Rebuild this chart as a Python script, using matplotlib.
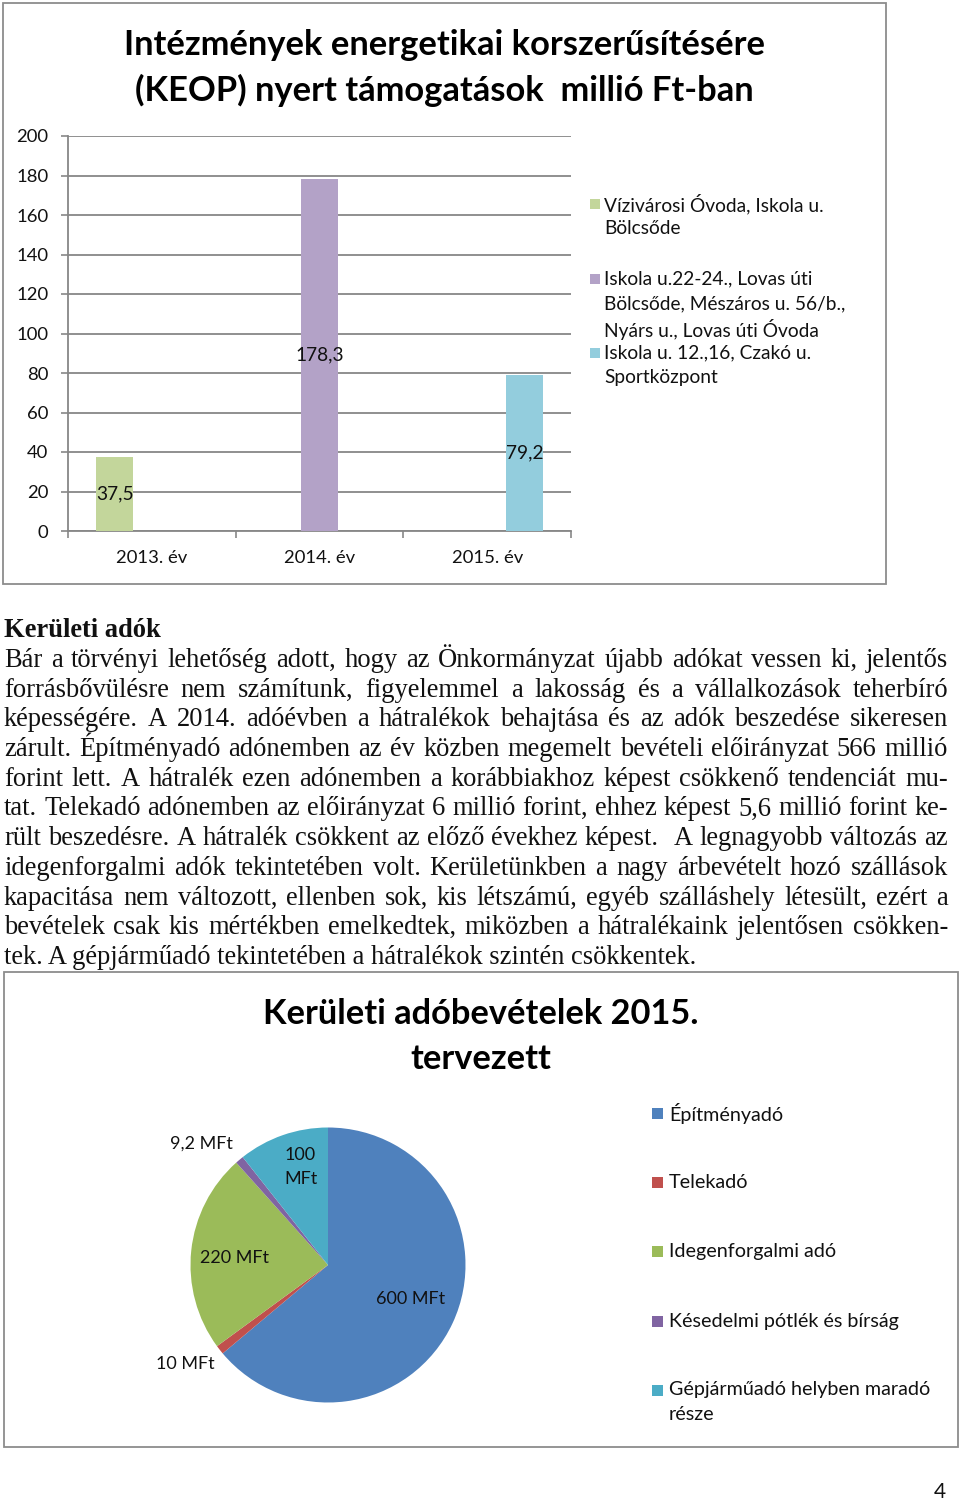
import matplotlib
matplotlib.use("Agg")
import matplotlib.pyplot as plt
from matplotlib.patches import Rectangle
import numpy as np

# ---------------- data ----------------
bar_title = ["Intézmények energetikai korszerűsítésére",
             "(KEOP) nyert támogatások  millió Ft-ban"]
bar_categories = ["2013. év", "2014. év", "2015. év"]
bar_series = ["Vízivárosi Óvoda, Iskola u.\nBölcsőde",
              "Iskola u.22-24., Lovas úti\nBölcsőde, Mészáros u. 56/b.,\nNyárs u., Lovas úti Óvoda",
              "Iskola u. 12.,16, Czakó u.\nSportközpont"]
series_values = [[37.5, 0, 0],
                 [0, 178.3, 0],
                 [0, 0, 79.2]]
bar_value_labels = ["37,5", "178,3", "79,2"]
bar_colors = ["#C3D69B", "#B3A2C7", "#93CDDD"]
y_ticks = [0, 20, 40, 60, 80, 100, 120, 140, 160, 180, 200]

heading = "Kerületi adók"
paragraph_lines = [
    "Bár a törvényi lehetőség adott, hogy az Önkormányzat újabb adókat vessen ki, jelentős",
    "forrásbővülésre nem számítunk, figyelemmel a lakosság és a vállalkozások teherbíró",
    "képességére. A 2014. adóévben a hátralékok behajtása és az adók beszedése sikeresen",
    "zárult. Építményadó adónemben az év közben megemelt bevételi előirányzat 566 millió",
    "forint lett. A hátralék ezen adónemben a korábbiakhoz képest csökkenő tendenciát mu-",
    "tat. Telekadó adónemben az előirányzat 6 millió forint, ehhez képest 5,6 millió forint ke-",
    "rült beszedésre. A hátralék csökkent az előző évekhez képest.  A legnagyobb változás az",
    "idegenforgalmi adók tekintetében volt. Kerületünkben a nagy árbevételt hozó szállások",
    "kapacitása nem változott, ellenben sok, kis létszámú, egyéb szálláshely létesült, ezért a",
    "bevételek csak kis mértékben emelkedtek, miközben a hátralékaink jelentősen csökken-",
    "tek. A gépjárműadó tekintetében a hátralékok szintén csökkentek.",
]

pie_title = ["Kerületi adóbevételek 2015.", "tervezett"]
pie_labels = ["Építményadó", "Telekadó", "Idegenforgalmi adó",
              "Késedelmi pótlék és bírság", "Gépjárműadó helyben maradó\nrésze"]
pie_values = [600, 10, 220, 9.2, 100]
pie_value_labels = ["600 MFt", "10 MFt", "220 MFt", "9,2 MFt", "100\nMFt"]
pie_colors = ["#4F81BD", "#C0504D", "#9BBB59", "#8064A2", "#4BACC6"]
page_number = "4"

# ---------------- layout helpers ----------------
W, H = 960, 1504
fig = plt.figure(figsize=(W / 100, H / 100), dpi=100)
fig.patch.set_facecolor("white")
renderer = fig.canvas.get_renderer()

SANS = ["Lato", "DejaVu Sans"]
SERIF = ["Liberation Serif", "DejaVu Serif"]
GRID = "#878787"
FRAME = "#8C8C8C"
INK = "#111111"


def fx(x):
    return x / W


def fy(y):
    return 1 - y / H


def axes_px(x0, y0, x1, y1):
    return fig.add_axes([x0 / W, 1 - y1 / H, (x1 - x0) / W, (y1 - y0) / H])


def frame(x0, y0, x1, y1):
    fig.add_artist(Rectangle((fx(x0), fy(y1)), (x1 - x0) / W, (y1 - y0) / H,
                             transform=fig.transFigure, fill=False,
                             edgecolor=FRAME, linewidth=1.3))


def text_width(s, fs, family, weight="normal"):
    t = fig.text(0, 0, s, fontsize=fs, family=family, weight=weight)
    w = t.get_window_extent(renderer).width
    t.remove()
    return w


def fit_size(s, target_w, family, weight="normal", base=20):
    return base * target_w / text_width(s, base, family, weight)


def legend_block(x_sq, x_txt, y_rows, labels, colors, fs, sq=10, dy=25):
    for yr, lab, col in zip(y_rows, labels, colors):
        fig.add_artist(Rectangle((fx(x_sq), fy(yr + sq / 2)), sq / W, sq / H,
                                 transform=fig.transFigure, facecolor=col,
                                 edgecolor="none"))
        for k, line in enumerate(lab.split("\n")):
            fig.text(fx(x_txt), fy(yr + k * dy), line, fontsize=fs, family=SANS,
                     ha="left", va="center", color=INK)


# ---------------- top chart ----------------
frame(3, 3, 886, 584)

fs_t = fit_size(bar_title[0], 642, SANS, "bold")
fig.text(fx(444), fy(55), bar_title[0], fontsize=fs_t, family=SANS, weight="bold",
         ha="center", va="baseline")
fig.text(fx(444), fy(101), bar_title[1], fontsize=fs_t, family=SANS, weight="bold",
         ha="center", va="baseline")

ax = axes_px(68, 136, 571, 531)
n = len(bar_categories)
xc = np.arange(n)
bw = 0.222
for i, (vals, col) in enumerate(zip(series_values, bar_colors)):
    ax.bar(xc + (i - 1) * bw, vals, width=bw, color=col, linewidth=0, zorder=3)
for i, (vals, lab) in enumerate(zip(series_values, bar_value_labels)):
    v = max(vals)
    j = vals.index(v)
    ax.text(xc[j] + (i - 1) * bw, v / 2, lab, ha="center", va="center",
            fontsize=13.8, family=SANS, color=INK, zorder=4)

ax.set_xlim(-0.5, n - 0.5)
ax.set_ylim(0, 200)
ax.set_yticks(y_ticks)
ax.set_yticklabels([str(t) for t in y_ticks], family=SANS, fontsize=13.3)
ax.set_xticks(xc)
ax.set_xticklabels(bar_categories, family=SANS, fontsize=13.3)
ax.set_xticks(np.arange(n + 1) - 0.5, minor=True)
ax.tick_params(axis="x", which="major", length=0, pad=14, colors=INK)
ax.tick_params(axis="x", which="minor", length=5, width=1.2, color=GRID, direction="out")
ax.tick_params(axis="y", which="major", length=5, width=1.2, color=GRID,
               labelcolor=INK, pad=9)
ax.yaxis.grid(True, color=GRID, linewidth=1.3, zorder=0)
ax.set_axisbelow(True)
for s in ["top", "right"]:
    ax.spines[s].set_visible(False)
for s in ["left", "bottom"]:
    ax.spines[s].set_color(GRID)
    ax.spines[s].set_linewidth(1.3)

legend_block(590, 604, [204, 279, 353], bar_series, bar_colors, 13.8)

# ---------------- text ----------------
max_w = max(text_width(l, 16, SERIF) for l in paragraph_lines[:-1])
fs_p = 16 * 941 / max_w
fig.text(fx(4), fy(637), heading, fontsize=fs_p, family=SERIF, weight="bold",
         ha="left", va="baseline", color=INK)
x_left, x_right = 4, 948
for k, line in enumerate(paragraph_lines):
    yb = 667 + 29.7 * k
    if k == len(paragraph_lines) - 1:
        fig.text(fx(x_left), fy(yb), line, fontsize=fs_p, family=SERIF,
                 ha="left", va="baseline", color=INK)
        continue
    words = line.split(" ")
    widths = [text_width(w, fs_p, SERIF) if w else 0.0 for w in words]
    gap = (x_right - x_left - sum(widths)) / (len(words) - 1)
    xpos = x_left
    for w, wd in zip(words, widths):
        if w:
            fig.text(fx(xpos), fy(yb), w, fontsize=fs_p, family=SERIF,
                     ha="left", va="baseline", color=INK)
        xpos += wd + gap

# ---------------- bottom chart ----------------
frame(4, 972, 958, 1447)
fs_pt = fit_size(pie_title[0], 435, SANS, "bold")
fig.text(fx(481), fy(1024), pie_title[0], fontsize=fs_pt, family=SANS, weight="bold",
         ha="center", va="baseline")
fig.text(fx(481), fy(1069), pie_title[1], fontsize=fs_pt, family=SANS, weight="bold",
         ha="center", va="baseline")

cx, cy, R = 328, 1265, 137.5
axp = axes_px(cx - R, cy - R, cx + R, cy + R)
axp.pie(pie_values, colors=pie_colors, startangle=90, counterclock=False,
        radius=1, wedgeprops=dict(linewidth=0))
axp.set_xlim(-1, 1)
axp.set_ylim(-1, 1)
axp.set_aspect("equal")
axp.axis("off")
pie_label_pos = [(0.60, -0.25), (-1.04, -0.72), (-0.68, 0.05), (-0.92, 0.88), (-0.20, 0.71)]
for lab, (px, py) in zip(pie_value_labels, pie_label_pos):
    axp.text(px, py, lab, ha="center", va="center", fontsize=13, family=SANS,
             color=INK, linespacing=1.6)

legend_block(652, 669, [1113, 1182, 1251, 1321, 1390], pie_labels, pie_colors, 14.2, sq=11)

fig.text(fx(940), fy(1492), page_number, fontsize=15, family=SANS, ha="center",
         va="center", color=INK)

fig.savefig("out.png", dpi=100, facecolor="white")
